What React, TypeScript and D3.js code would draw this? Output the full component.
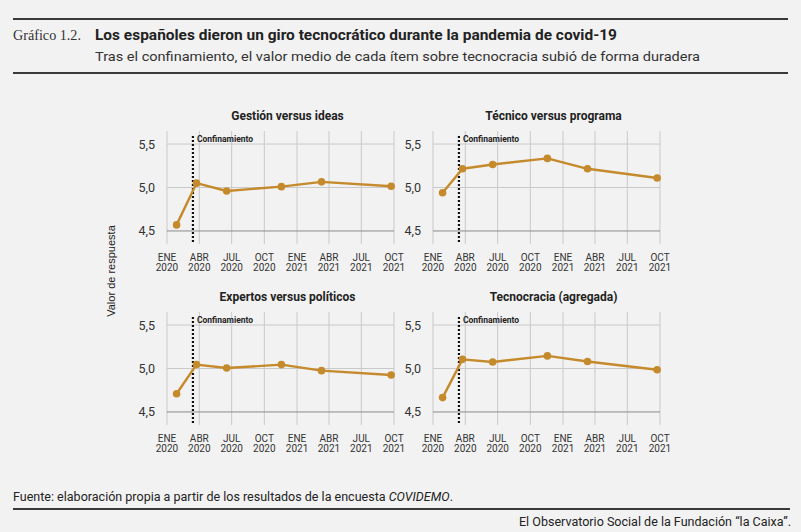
import * as d3 from "d3"

const W = 801
const H = 532

// survey waves (dates) and mean values per item
const waveDates = ["2020-01-28", "2020-03-24", "2020-06-17", "2020-11-18", "2021-03-11", "2021-09-23"]
const gestionIdeas = [4.57, 5.05, 4.96, 5.01, 5.065, 5.015]
const tecnicoPrograma = [4.94, 5.215, 5.265, 5.335, 5.215, 5.11]
const expertosPoliticos = [4.71, 5.045, 5.005, 5.045, 4.975, 4.925]
const tecnocraciaAgregada = [4.665, 5.105, 5.075, 5.145, 5.08, 4.985]

const panelTitles = ["Gestión versus ideas", "Técnico versus programa", "Expertos versus políticos", "Tecnocracia (agregada)"]

const tickDates = ["2020-01-01", "2020-04-01", "2020-07-01", "2020-10-01", "2021-01-01", "2021-04-01", "2021-07-01", "2021-10-01"]
const tickMonths = ["ENE", "ABR", "JUL", "OCT", "ENE", "ABR", "JUL", "OCT"]
const tickYears = ["2020", "2020", "2020", "2020", "2021", "2021", "2021", "2021"]
const yTicks = [4.5, 5.0, 5.5]
const lockdownDate = "2020-03-14"

const parse = d3.timeParse("%Y-%m-%d")
const LINE = "#c48a2c"
const GRID = "#c9c9c9"
const SANS = "Roboto, 'Liberation Sans', sans-serif"

function Panel({ left, top, title, values }: { left: number; top: number; title: string; values: number[] }) {
    const w = 227
    const h = 113
    const x = d3
        .scaleTime()
        .domain([parse(tickDates[0])!, parse(tickDates[tickDates.length - 1])!])
        .range([left, left + w])
    const y = d3.scaleLinear().domain([4.35, 5.65]).range([top + h, top])
    const pts = values.map((v, i) => [x(parse(waveDates[i])!), y(v)] as [number, number])
    const line = d3.line()
    const lx = x(parse(lockdownDate)!)
    const fmt = (v: number) => d3.format(".1f")(v).replace(".", ",")

    return (
        <g>
            <text x={left + w / 2 + 7} y={top - 11} textAnchor="middle" fontFamily={SANS} fontWeight="bold" fontSize={12} fill="#222">
                {title}
            </text>
            {tickDates.map((d, i) => (
                <g key={d}>
                    <line x1={x(parse(d)!)} x2={x(parse(d)!)} y1={top} y2={top + h} stroke={GRID} strokeWidth={1} />
                    <text x={x(parse(d)!)} y={top + h + 17} textAnchor="middle" fontFamily={SANS} fontSize={10} fill="#333">
                        {tickMonths[i]}
                    </text>
                    <text x={x(parse(d)!)} y={top + h + 27} textAnchor="middle" fontFamily={SANS} fontSize={10} fill="#333">
                        {tickYears[i]}
                    </text>
                </g>
            ))}
            {yTicks.map((t) => (
                <g key={t}>
                    <line x1={left} x2={left + w} y1={y(t)} y2={y(t)} stroke={t === 4.5 ? "#8a8a8a" : GRID} strokeWidth={1} />
                    <text x={left - 12} y={y(t) + 4.5} textAnchor="end" fontFamily={SANS} fontSize={12.5} fill="#333">
                        {fmt(t)}
                    </text>
                </g>
            ))}
            <line x1={lx} x2={lx} y1={top + 5} y2={top + h} stroke="#111" strokeWidth={2.2} strokeDasharray="2 2" />
            <text x={lx + 4} y={top + 11} fontFamily={SANS} fontWeight="bold" fontSize={8.5} fill="#222">
                Confinamiento
            </text>
            <path d={line(pts) ?? ""} fill="none" stroke={LINE} strokeWidth={2.4} strokeLinejoin="round" />
            {pts.map((p, i) => (
                <circle key={i} cx={p[0]} cy={p[1]} r={3.8} fill={LINE} />
            ))}
        </g>
    )
}

export default function App() {
    return (
        <svg width={W} height={H} style={{ position: "absolute", left: 0, top: 0, display: "block" }}>
            <rect width={W} height={H} fill="#f2f2f2" />
            <line x1={13} x2={788} y1={19} y2={19} stroke="#3a3a3a" strokeWidth={2} />
            <text x={13} y={40} fontFamily="'Liberation Serif', serif" fontSize={14} fill="#333" textLength={68} lengthAdjust="spacingAndGlyphs">
                Gráfico 1.2.
            </text>
            <text x={95} y={40} fontFamily={SANS} fontWeight="bold" fontSize={14} fill="#222" textLength={522} lengthAdjust="spacingAndGlyphs">
                Los españoles dieron un giro tecnocrático durante la pandemia de covid-19
            </text>
            <text x={95} y={61} fontFamily={SANS} fontSize={13.5} fill="#333" textLength={605} lengthAdjust="spacingAndGlyphs">
                Tras el confinamiento, el valor medio de cada ítem sobre tecnocracia subió de forma duradera
            </text>
            <line x1={13} x2={788} y1={73} y2={73} stroke="#3a3a3a" strokeWidth={2} />

            <text transform="translate(115,271) rotate(-90)" textAnchor="middle" fontFamily="'Liberation Sans', Arial, sans-serif" fontSize={11} fill="#222">
                Valor de respuesta
            </text>

            <Panel left={167} top={131} title={panelTitles[0]} values={gestionIdeas} />
            <Panel left={433} top={131} title={panelTitles[1]} values={tecnicoPrograma} />
            <Panel left={167} top={312} title={panelTitles[2]} values={expertosPoliticos} />
            <Panel left={433} top={312} title={panelTitles[3]} values={tecnocraciaAgregada} />

            <text x={13} y={501} fontFamily={SANS} fontSize={12} fill="#222" textLength={440} lengthAdjust="spacingAndGlyphs">
                Fuente: elaboración propia a partir de los resultados de la encuesta <tspan fontStyle="italic">COVIDEMO</tspan>.
            </text>
            <line x1={13} x2={790} y1={509} y2={509} stroke="#3a3a3a" strokeWidth={2} />
            <text x={791} y={526} textAnchor="end" fontFamily={SANS} fontSize={12} fill="#222" textLength={272} lengthAdjust="spacingAndGlyphs">
                El Observatorio Social de la Fundación “la Caixa”.
            </text>
        </svg>
    )
}
